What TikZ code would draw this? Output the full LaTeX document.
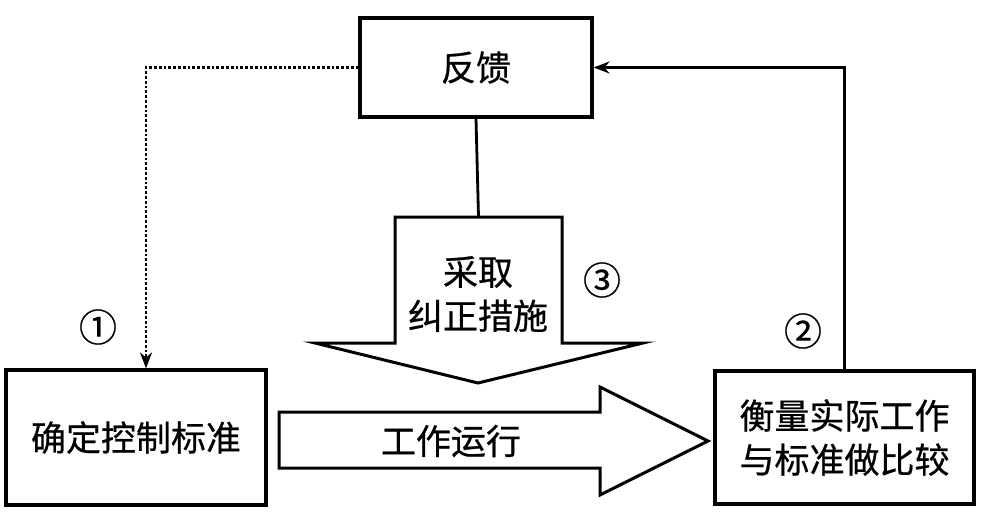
\documentclass[tikz,border=0pt]{standalone}
\usepackage{fontspec}
\setmainfont[FakeBold=0.6]{Noto Sans CJK SC}
\usetikzlibrary{arrows.meta, positioning}

\tikzset{
  box/.style={draw, line width=3.2pt, rectangle, inner sep=0pt,
              font=\fontsize{35}{44}\selectfont, align=center},
  bigarrow/.style={draw, line width=3pt, fill=white, line join=miter},
  link/.style={line width=2.8pt},
  txt/.style={font=\fontsize{35}{44}\selectfont, align=center},
  num/.style={font=\fontsize{38}{40}\selectfont}
}

\begin{document}
\begin{tikzpicture}[x=1pt, y=-1pt, >={Stealth[length=16pt, width=12pt]}]
  \useasboundingbox (0,0) rectangle (981,531);

  % Boxes
  \node[box, minimum width=232pt, minimum height=99pt] (fb) at (476,67.5) {反馈};
  \node[box, minimum width=260pt, minimum height=135pt] (std) at (136,437.5) {确定控制标准};
  \node[box, minimum width=259pt, minimum height=133pt] (cmp) at (844.5,437.5)
    {衡量实际工作\\与标准做比较};

  % Corrective action arrow (down)
  \coordinate (dtop) at (478.5,217);
  \draw[bigarrow] (395,217) -- (562,217) -- (562,343) -- (643,343)
    -- (478,383) -- (315,343) -- (395,343) -- cycle;
  \node[txt] (act) at (478,294) {采取\\纠正措施};

  % Work arrow (right)
  \draw[bigarrow] (279,412) -- (600,412) -- (600,387) -- (708,441)
    -- (600,495) -- (600,468) -- (279,468) -- cycle;
  \node[txt] (work) at (451,441) {工作运行};

  % Connectors
  \draw[link] (fb.south) -- (dtop);
  \draw[link, ->, dash pattern=on 2.8pt off 2pt] (fb.west) -| ([xshift=10pt]std.north);
  \draw[link, ->] (cmp.north) |- (fb.east);

  % Step numbers
  \node[num] (n1) at (98,327) {①};
  \node[num] (n2) at (803,331) {②};
  \node[num] (n3) at (602,280) {③};
\end{tikzpicture}
\end{document}
